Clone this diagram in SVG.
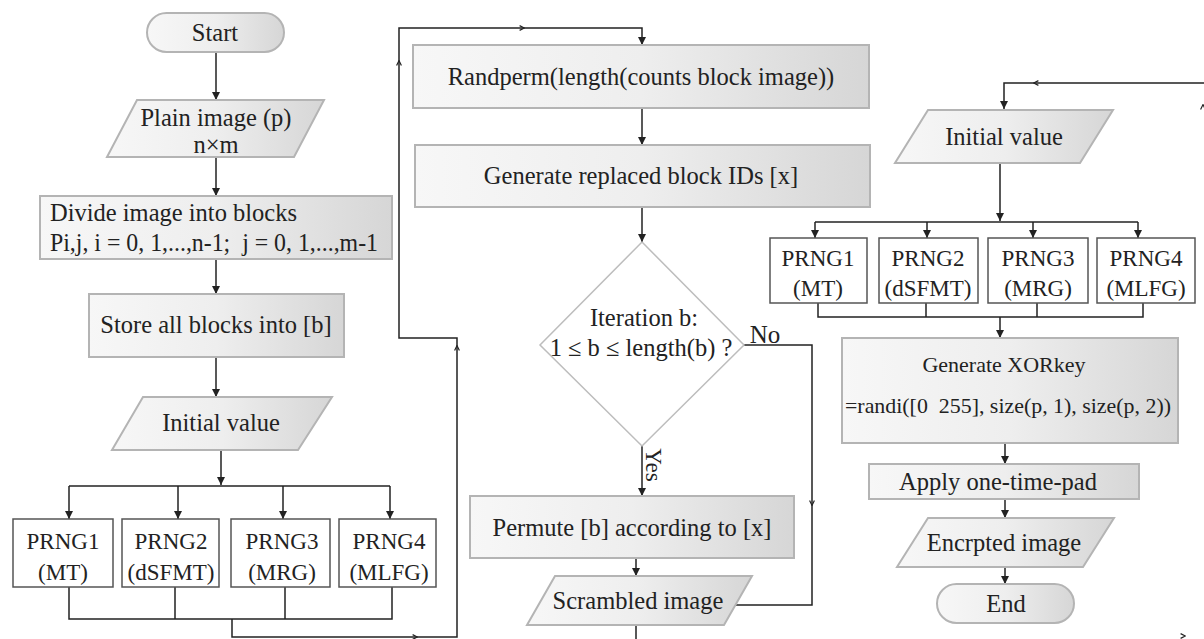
<svg xmlns="http://www.w3.org/2000/svg" width="1204" height="639" viewBox="0 0 1204 639">
<defs>
<linearGradient id="g" x1="0" y1="0" x2="1" y2="0">
<stop offset="0" stop-color="#f7f7f7"/>
<stop offset="0.5" stop-color="#eeeeee"/>
<stop offset="1" stop-color="#d6d6d6"/>
</linearGradient>
<marker id="ah" viewBox="0 0 10 10" refX="10" refY="5" markerWidth="8" markerHeight="8" markerUnits="userSpaceOnUse" orient="auto">
<path d="M0,0 L10,5 L0,10 z" fill="#222"/>
</marker>
<marker id="mk" viewBox="0 0 10 10" refX="5" refY="5" markerWidth="6" markerHeight="6" markerUnits="userSpaceOnUse" orient="auto">
<path d="M1,1 L9,5 L1,9" fill="none" stroke="#222" stroke-width="2"/>
</marker>
</defs>
<style>
text{font-family:"Liberation Serif","Times New Roman",serif;fill:#222;font-size:24.5px;text-anchor:middle}
.p{font-size:23px}
.g{fill:url(#g);stroke:#b4b4b4;stroke-width:2}
.w{fill:#fff;stroke:#555;stroke-width:1.5}
.d{fill:#fff;stroke:#bdbdbd;stroke-width:1.5}
.c{fill:none;stroke:#222;stroke-width:1.5}
.a{marker-end:url(#ah)}
.m{fill:none;stroke:none;marker-end:url(#mk)}
</style>
<rect width="1204" height="639" fill="#fff"/>

<g id="connectors">
<path class="c a" d="M216,52 V100"/>
<path class="c a" d="M216,157 V196"/>
<path class="c a" d="M216,259 V294"/>
<path class="c a" d="M216,357 V397"/>
<path class="c a" d="M221,450 V485"/>
<path class="c" d="M69,486 H390"/>
<path class="c a" d="M69,486 V519"/>
<path class="c a" d="M178,486 V519"/>
<path class="c a" d="M283,486 V519"/>
<path class="c a" d="M390,486 V519"/>
<path class="c" d="M69,587 V619 H392 V587 M175,587 V619 M285,587 V619"/>
<path class="c a" d="M232,619 V637 H457 V338 H399 V28 H642 V45"/>
<path class="m" d="M292,637 h1 M414,637 h1"/>
<path class="m" d="M457,616 v-1 M457,509 v-1 M457,414 v-1 M457,349 v-1"/>
<path class="m" d="M399,276 v-1 M399,176 v-1 M399,64 v-1"/>
<path class="m" d="M521,28 h1"/>

<path class="c a" d="M642,108 V145"/>
<path class="c a" d="M642,207 V242"/>
<path class="c a" d="M642,446 V496"/>
<path class="c a" d="M636,558 V576"/>
<path class="c" d="M744,345 H812 V605 H736"/>
<path class="m" d="M812,447 v1 M812,502 v1"/>
<path class="c" d="M636,625 V642 H1206 V83"/>
<path class="m" d="M687,636 h1 M852,636 h1 M920,636 h1 M985,636 h1 M1050,636 h1 M1115,636 h1 M1182,636 h1"/>
<path class="m" d="M1203,581 v-1 M1203,491 v-1 M1203,386 v-1 M1203,326 v-1 M1203,261 v-1 M1203,241 v-1 M1203,169 v-1 M1203,108 v-1"/>

<path class="c a" d="M1206,83 H1004 V109"/>
<path class="m" d="M1183,83 h-1 M1127,83 h-1 M1093,83 h-1 M1037,83 h-1"/>
<path class="c a" d="M1000,163 V221"/>
<path class="c" d="M815,222 H1138"/>
<path class="c a" d="M815,222 V238"/>
<path class="c a" d="M927,222 V238"/>
<path class="c a" d="M1033,222 V238"/>
<path class="c a" d="M1138,222 V238"/>
<path class="c" d="M818,303 V317 H1143 V303 M926,303 V317 M1037,303 V317"/>
<path class="c a" d="M1000,317 V338"/>
<path class="c a" d="M1005,443 V464"/>
<path class="c a" d="M1005,499 V518"/>
<path class="c a" d="M1005,567 V584"/>
</g>

<g id="start">
<rect class="g" x="147" y="13" width="137" height="39" rx="19.5"/>
<text x="215" y="41">Start</text>
</g>
<g id="plain-image">
<polygon class="g" points="137,100 324,100 294,157 107,157"/>
<text x="216" y="126">Plain image (p)</text>
<text x="216" y="153">n×m</text>
</g>
<g id="divide">
<rect class="g" x="40" y="196" width="352" height="63"/>
<text x="50" y="221" style="text-anchor:start">Divide image into blocks</text>
<text x="50" y="251" style="text-anchor:start" xml:space="preserve" textLength="328" lengthAdjust="spacingAndGlyphs">Pi,j, i = 0, 1,...,n-1;  j = 0, 1,...,m-1</text>
</g>
<g id="store">
<rect class="g" x="89" y="294" width="255" height="63"/>
<text x="216" y="333">Store all blocks into [b]</text>
</g>
<g id="initial-left">
<polygon class="g" points="143,397 332,397 298,450 112,450"/>
<text x="221" y="431">Initial value</text>
</g>
<g id="prng1-left">
<rect class="w" x="13" y="519" width="100" height="68"/>
<text class="p" x="63" y="549">PRNG1</text>
<text class="p" x="63" y="580">(MT)</text>
</g>
<g id="prng2-left">
<rect class="w" x="122" y="519" width="97" height="68"/>
<text class="p" x="171" y="549">PRNG2</text>
<text class="p" x="171" y="580">(dSFMT)</text>
</g>
<g id="prng3-left">
<rect class="w" x="231" y="519" width="99" height="68"/>
<text class="p" x="282" y="549">PRNG3</text>
<text class="p" x="282" y="580">(MRG)</text>
</g>
<g id="prng4-left">
<rect class="w" x="339" y="519" width="97" height="68"/>
<text class="p" x="389" y="549">PRNG4</text>
<text class="p" x="389" y="580">(MLFG)</text>
</g>

<g id="randperm">
<rect class="g" x="413" y="45" width="456" height="63"/>
<text x="641" y="85">Randperm(length(counts block image))</text>
</g>
<g id="generate-ids">
<rect class="g" x="415" y="145" width="455" height="62"/>
<text x="641" y="184">Generate replaced block IDs [x]</text>
</g>
<g id="iteration">
<polygon class="d" points="642,242 744,345 642,446 540,345"/>
<text x="644" y="326">Iteration b:</text>
<text x="641" y="356">1 ≤ b ≤ length(b) ?</text>
<text x="765" y="343" style="font-size:25px">No</text>
<text transform="translate(646,465) rotate(90)" style="font-size:23px">Yes</text>
</g>
<g id="permute">
<rect class="g" x="470" y="496" width="324" height="62"/>
<text x="632" y="536">Permute [b] according to [x]</text>
</g>
<g id="scrambled">
<polygon class="g" points="555,576 752,576 724,625 527,625"/>
<text x="638" y="609">Scrambled image</text>
</g>

<g id="initial-right">
<polygon class="g" points="928,110 1113,110 1080,163 895,163"/>
<text x="1004" y="145">Initial value</text>
</g>
<g id="prng1-right">
<rect class="w" x="770" y="238" width="97" height="65"/>
<text class="p" x="818" y="266">PRNG1</text>
<text class="p" x="818" y="296">(MT)</text>
</g>
<g id="prng2-right">
<rect class="w" x="879" y="238" width="99" height="65"/>
<text class="p" x="928" y="266">PRNG2</text>
<text class="p" x="928" y="296">(dSFMT)</text>
</g>
<g id="prng3-right">
<rect class="w" x="988" y="238" width="100" height="65"/>
<text class="p" x="1038" y="266">PRNG3</text>
<text class="p" x="1038" y="296">(MRG)</text>
</g>
<g id="prng4-right">
<rect class="w" x="1097" y="238" width="98" height="65"/>
<text class="p" x="1146" y="266">PRNG4</text>
<text class="p" x="1146" y="296">(MLFG)</text>
</g>
<g id="xorkey">
<rect class="g" x="842" y="338" width="336" height="105"/>
<text x="1004" y="372" style="font-size:22px">Generate XORkey</text>
<text x="845" y="413" style="text-anchor:start;font-size:22px" xml:space="preserve" textLength="326" lengthAdjust="spacingAndGlyphs">=randi([0  255], size(p, 1), size(p, 2))</text>
</g>
<g id="otp">
<rect class="g" x="869" y="464" width="270" height="35"/>
<text x="998" y="490">Apply one-time-pad</text>
</g>
<g id="encrypted">
<polygon class="g" points="928,518 1114,518 1083,567 897,567"/>
<text x="1004" y="551">Encrpted image</text>
</g>
<g id="end">
<rect class="g" x="937" y="584" width="137" height="39" rx="19.5"/>
<text x="1006" y="612">End</text>
</g>
</svg>
